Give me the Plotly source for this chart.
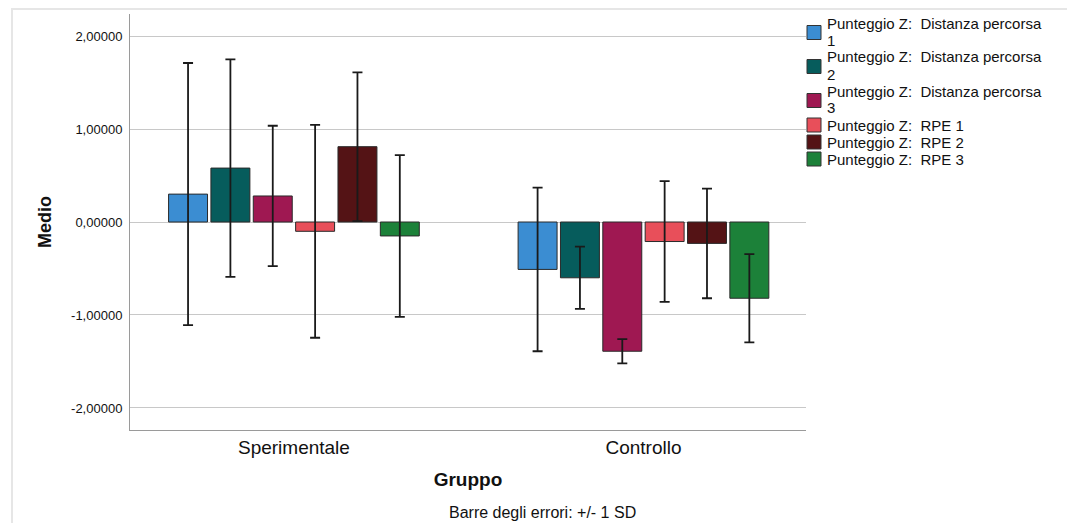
import plotly.graph_objects as go

groups = ["Sperimentale", "Controllo"]
series_names = [
    "Punteggio Z:\u00a0 Distanza percorsa<br>1",
    "Punteggio Z:\u00a0 Distanza percorsa<br>2",
    "Punteggio Z:\u00a0 Distanza percorsa<br>3",
    "Punteggio Z:\u00a0 RPE 1",
    "Punteggio Z:\u00a0 RPE 2",
    "Punteggio Z:\u00a0 RPE 3",
]
dist1_mean = [0.30, -0.51]
dist1_sd = [1.41, 0.88]
dist2_mean = [0.58, -0.60]
dist2_sd = [1.17, 0.335]
dist3_mean = [0.28, -1.39]
dist3_sd = [0.755, 0.13]
rpe1_mean = [-0.10, -0.21]
rpe1_sd = [1.145, 0.65]
rpe2_mean = [0.81, -0.23]
rpe2_sd = [0.80, 0.59]
rpe3_mean = [-0.15, -0.82]
rpe3_sd = [0.87, 0.475]
colors = ["#3b8dd2", "#065c5c", "#9f1852", "#e84f5a", "#541315", "#1c8139"]

tick_vals = [-2, -1, 0, 1, 2]
tick_text = ["-2,00000", "-1,00000", "0,00000", "1,00000", "2,00000"]

means = [dist1_mean, dist2_mean, dist3_mean, rpe1_mean, rpe2_mean, rpe3_mean]
sds = [dist1_sd, dist2_sd, dist3_sd, rpe1_sd, rpe2_sd, rpe3_sd]

W, H = 1067, 523
L, R, T, B = 130, 806, 14, 430
PW, PH = R - L, B - T


def px_x(x):
    return (x - L) / PW


def px_y(y):
    return (B - y) / PH


fig = go.Figure()
for name, m, s, c in zip(series_names, means, sds, colors):
    fig.add_trace(go.Bar(
        x=groups, y=m, name=name, showlegend=False,
        marker=dict(color=c, line=dict(color="#2a2a2a", width=1)),
        error_y=dict(type="data", array=s, visible=True, color="#1a1a1a",
                     thickness=1.8, width=5),
    ))

# Legend drawn to match the compact SPSS-style layout
line_pitch = 17
first_line_y = 23
shapes = []
annotations = []
line_idx = 0
for name, c in zip(series_names, colors):
    parts = name.split("<br>")
    ys = []
    for txt in parts:
        ly = first_line_y + line_idx * line_pitch
        ys.append(ly)
        annotations.append(dict(text=txt, xref="paper", yref="paper", x=px_x(825), y=px_y(ly),
                                xanchor="left", yanchor="middle", showarrow=False,
                                font=dict(size=15, color="#111111")))
        line_idx += 1
    yc = sum(ys) / len(ys) + (1 if len(ys) > 1 else 0)
    shapes.append(dict(type="rect", xref="paper", yref="paper",
                       x0=px_x(807), x1=px_x(821), y0=px_y(yc + 7), y1=px_y(yc - 7),
                       fillcolor=c, line=dict(color="#333333", width=1)))

annotations.append(dict(text="Barre degli errori: +/- 1 SD", xref="paper", yref="paper",
                        x=px_x(542), y=px_y(512), xanchor="center", yanchor="middle",
                        showarrow=False, font=dict(size=16, color="#111111")))
shapes.append(dict(type="rect", xref="paper", yref="paper",
                   x0=px_x(12), x1=px_x(1090), y0=px_y(560), y1=px_y(9),
                   line=dict(color="#e6e6e6", width=2), fillcolor="rgba(0,0,0,0)", layer="below"))

fig.update_layout(
    width=W, height=H,
    margin=dict(l=L, r=W - R, t=T, b=H - B),
    paper_bgcolor="white", plot_bgcolor="white",
    barmode="group", bargap=0.273, bargroupgap=0.08,
    font=dict(family="Liberation Sans, Arial", color="#111111"),
    showlegend=False,
    xaxis=dict(range=[-0.469, 1.465], showline=True, linecolor="#9a9a9a", linewidth=1,
               tickfont=dict(size=19), ticks="", showgrid=False,
               title=dict(text="<b>Gruppo</b>", font=dict(size=19), standoff=15)),
    yaxis=dict(range=[-2.237, 2.237], tickvals=tick_vals, ticktext=tick_text,
               showline=True, linecolor="#9a9a9a", linewidth=1,
               showgrid=True, gridcolor="#c8c8c8", gridwidth=1,
               zeroline=False, tickfont=dict(size=13), ticks="", ticklabelstandoff=4,
               title=dict(text="<b>Medio</b>", font=dict(size=18), standoff=14)),
    annotations=annotations,
    shapes=shapes,
)
fig.write_html("out.html", config={"displayModeBar": False},
               post_script="document.body.style.margin='0px';")
